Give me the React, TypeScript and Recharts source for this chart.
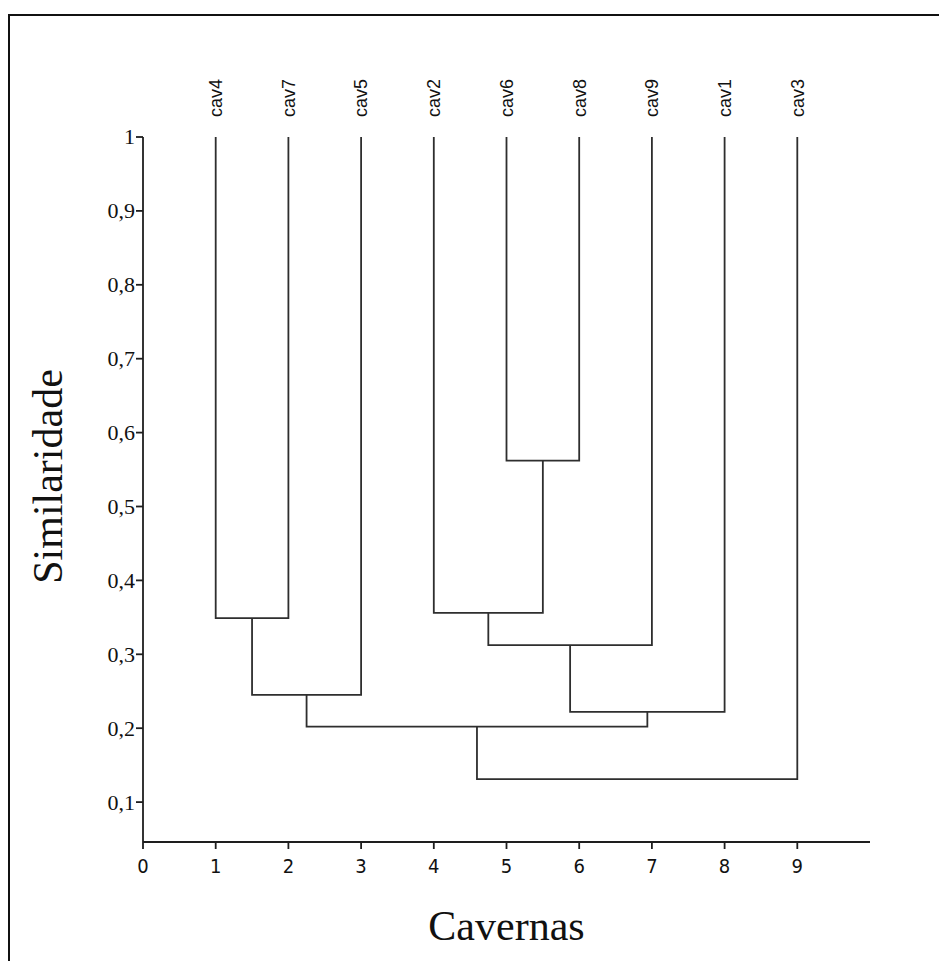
import React from "react";
import {
  ScatterChart,
  Scatter,
  XAxis,
  YAxis,
} from "recharts";

// leaf order along the x axis (position 1..9)
const leaves = ["cav4", "cav7", "cav5", "cav2", "cav6", "cav8", "cav9", "cav1", "cav3"];

// each merge joins two children (leaf names or earlier merges n1..n8)
const mergeChildren: [string, string][] = [
  ["cav4", "cav7"], // n1
  ["n1", "cav5"], // n2
  ["cav6", "cav8"], // n3
  ["cav2", "n3"], // n4
  ["n4", "cav9"], // n5
  ["n5", "cav1"], // n6
  ["n2", "n6"], // n7
  ["n7", "cav3"], // n8
];
const mergeHeights = [0.349, 0.245, 0.562, 0.356, 0.3125, 0.222, 0.202, 0.131];

const xTicks = [0, 1, 2, 3, 4, 5, 6, 7, 8, 9];
const leafTicks = [1, 2, 3, 4, 5, 6, 7, 8, 9];
const yTicks = [0.1, 0.2, 0.3, 0.4, 0.5, 0.6, 0.7, 0.8, 0.9, 1];

const LINE = "#2e2e2e";
const AXIS = "#1e1e1e";
const TEXT = "#111";
const SERIF = "'Liberation Serif', 'Times New Roman', serif";
const NARROW = "'Liberation Sans Narrow', 'DejaVu Sans Condensed', 'Liberation Sans', sans-serif";

// build one U-shaped path per merge
function buildLinks() {
  const pos: Record<string, { x: number; y: number }> = {};
  leaves.forEach((name, i) => {
    pos[name] = { x: i + 1, y: 1 };
  });
  return mergeChildren.map(([a, b], i) => {
    const h = mergeHeights[i];
    const pa = pos[a];
    const pb = pos[b];
    pos[`n${i + 1}`] = { x: (pa.x + pb.x) / 2, y: h };
    return [
      { x: pa.x, y: pa.y },
      { x: pa.x, y: h },
      { x: pb.x, y: h },
      { x: pb.x, y: pb.y },
    ];
  });
}

const links = buildLinks();

function renderLeafTick(props: any) {
  const { x, y, payload } = props;
  return (
    <text
      key={payload.value}
      transform={`translate(${x}, ${y - 12}) rotate(-90)`}
      textAnchor="start"
      dy="0.35em"
      fill={TEXT}
      style={{ fontFamily: "'Liberation Sans', Arial, sans-serif", fontSize: 18 }}
    >
      {leaves[payload.value - 1]}
    </text>
  );
}

function renderXTick(props: any) {
  const { x, y, payload } = props;
  return (
    <text
      key={payload.value}
      x={x}
      y={y}
      dy="0.71em"
      textAnchor="middle"
      fill={TEXT}
      style={{ fontFamily: NARROW, fontSize: 20 }}
    >
      {payload.value}
    </text>
  );
}

function renderYTick(props: any) {
  const { x, y, payload } = props;
  return (
    <text
      key={payload.value}
      x={x}
      y={y}
      dy="0.34em"
      textAnchor="end"
      fill={TEXT}
      style={{ fontFamily: SERIF, fontSize: 22 }}
    >
      {String(payload.value).replace(".", ",")}
    </text>
  );
}

function renderYTitle(props: any) {
  const { viewBox } = props;
  const cx = 47;
  const cy = viewBox.y + viewBox.height / 2 - 13;
  return (
    <text
      transform={`translate(${cx}, ${cy}) rotate(-90)`}
      textAnchor="middle"
      dy="0.355em"
      fill={TEXT}
      style={{ fontFamily: SERIF, fontSize: 42 }}
    >
      Similaridade
    </text>
  );
}

export default function App() {
  return (
    <div style={{ position: "absolute", left: 0, top: 0, width: 939, height: 961, background: "#fff", overflow: "hidden" }}>
      <div
        style={{
          position: "absolute",
          left: 8,
          top: 14,
          width: 960,
          height: 990,
          borderTop: "2px solid #111",
          borderLeft: "2px solid #111",
        }}
      />
      <div style={{ position: "absolute", left: 0, top: 0 }}>
        <ScatterChart width={939} height={961} margin={{ top: 77, right: 69, bottom: 89, left: 83 }}>
          <XAxis
            xAxisId="bottom"
            dataKey="x"
            type="number"
            domain={[0, 10]}
            ticks={xTicks}
            allowDataOverflow
            height={30}
            stroke={AXIS}
            strokeWidth={1.8}
            tickSize={7}
            tickMargin={10}
            tick={renderXTick}
            label={{ value: "Cavernas", position: "bottom", offset: 38, fontSize: 42, fill: TEXT, fontFamily: SERIF }}
          />
          <XAxis
            xAxisId="top"
            orientation="top"
            dataKey="x"
            type="number"
            domain={[0, 10]}
            ticks={leafTicks}
            allowDataOverflow
            height={60}
            axisLine={false}
            tickLine={false}
            tick={renderLeafTick}
          />
          <YAxis
            yAxisId="left"
            dataKey="y"
            type="number"
            domain={[0.046, 1]}
            ticks={yTicks}
            allowDataOverflow
            width={60}
            stroke={AXIS}
            strokeWidth={1.8}
            tickSize={7}
            tickMargin={1}
            tick={renderYTick}
            label={{ content: renderYTitle }}
          />
          {links.map((pts, i) => (
            <Scatter
              key={i}
              xAxisId="bottom"
              yAxisId="left"
              data={pts}
              line={{ stroke: LINE, strokeWidth: 1.8 }}
              lineType="joint"
              shape={() => <g />}
              isAnimationActive={false}
            />
          ))}
          {/* invisible series so the top axis has something to scale */}
          <Scatter
            xAxisId="top"
            yAxisId="left"
            data={links[0]}
            shape={() => <g />}
            isAnimationActive={false}
          />
        </ScatterChart>
      </div>
    </div>
  );
}
